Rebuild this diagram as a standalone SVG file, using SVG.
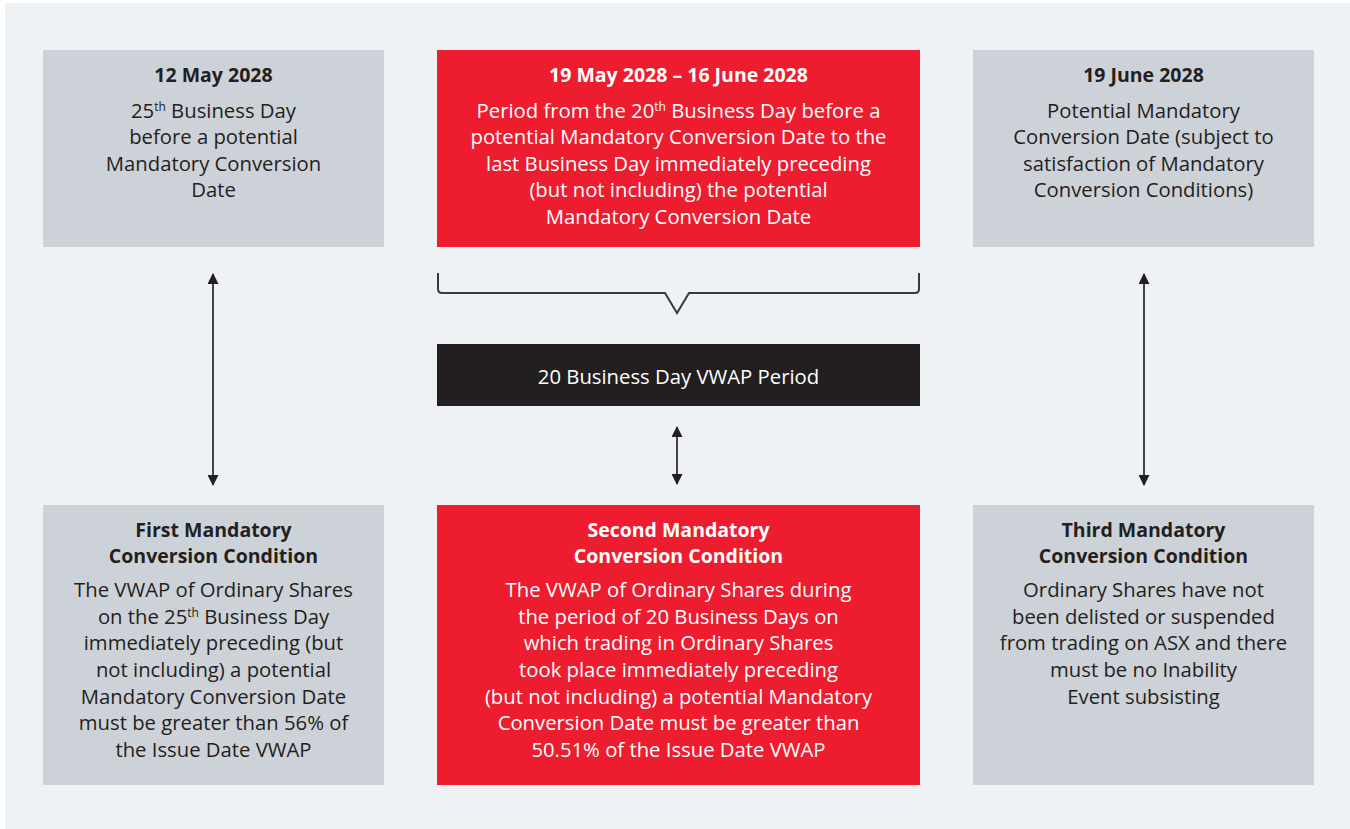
<svg xmlns="http://www.w3.org/2000/svg" width="1350" height="829" viewBox="0 0 1350 829">
<defs>
<style>
text{font-family:"Open Sans","Noto Sans","Liberation Sans",sans-serif;font-size:20.3px;text-anchor:middle;fill:#231f20}
.b{font-weight:bold;font-size:19.5px}
.w{fill:#ffffff}
.gray{fill:#cdd1d8}
.red{fill:#ed1c2e}
.blk{fill:#231f20}
.sup{font-size:12px}
.ln{stroke:#3a3a3a;stroke-width:2;fill:none}
.ar{stroke:#444;stroke-width:2}
</style>
<marker id="ah" viewBox="0 0 10 10" refX="9" refY="5" markerWidth="12" markerHeight="11" markerUnits="userSpaceOnUse" orient="auto-start-reverse">
<path d="M0,0 L10,5 L0,10 Z" fill="#231f20"/>
</marker>
</defs>
<rect x="0" y="0" width="1350" height="829" fill="#ffffff"/>
<rect x="5" y="3" width="1345" height="826" fill="#eef2f5"/>

<g id="node-12may">
<rect class="gray" x="43" y="50" width="341" height="197"/>
<text class="b" x="213.5" y="82">12 May 2028</text>
<text x="213.5" y="118">25<tspan class="sup" dy="-7">th</tspan><tspan dy="7"> Business Day</tspan></text>
<text x="213.5" y="144">before a potential</text>
<text x="213.5" y="171">Mandatory Conversion</text>
<text x="213.5" y="197">Date</text>
</g>

<g id="node-period">
<rect class="red" x="437" y="50" width="483" height="197"/>
<text class="b w" x="678.5" y="82">19 May 2028 – 16 June 2028</text>
<text class="w" x="678.5" y="118">Period from the 20<tspan class="sup" dy="-7">th</tspan><tspan dy="7"> Business Day before a</tspan></text>
<text class="w" x="678.5" y="144">potential Mandatory Conversion Date to the</text>
<text class="w" x="678.5" y="171">last Business Day immediately preceding</text>
<text class="w" x="678.5" y="197">(but not including) the potential</text>
<text class="w" x="678.5" y="224">Mandatory Conversion Date</text>
</g>

<g id="node-19june">
<rect class="gray" x="973" y="50" width="341" height="197"/>
<text class="b" x="1143.5" y="82">19 June 2028</text>
<text x="1143.5" y="118">Potential Mandatory</text>
<text x="1143.5" y="144">Conversion Date (subject to</text>
<text x="1143.5" y="171">satisfaction of Mandatory</text>
<text x="1143.5" y="197">Conversion Conditions)</text>
</g>

<g id="node-vwap">
<rect class="blk" x="437" y="344" width="483" height="62"/>
<text class="w" x="678.5" y="384">20 Business Day VWAP Period</text>
</g>

<g id="node-first">
<rect class="gray" x="43" y="505" width="341" height="280"/>
<text class="b" x="213.5" y="537">First Mandatory</text>
<text class="b" x="213.5" y="563">Conversion Condition</text>
<text x="213.5" y="597">The VWAP of Ordinary Shares</text>
<text x="213.5" y="624">on the 25<tspan class="sup" dy="-7">th</tspan><tspan dy="7"> Business Day</tspan></text>
<text x="213.5" y="650">immediately preceding (but</text>
<text x="213.5" y="677">not including) a potential</text>
<text x="213.5" y="704">Mandatory Conversion Date</text>
<text x="213.5" y="730">must be greater than 56% of</text>
<text x="213.5" y="757">the Issue Date VWAP</text>
</g>

<g id="node-second">
<rect class="red" x="437" y="505" width="483" height="280"/>
<text class="b w" x="678.5" y="537">Second Mandatory</text>
<text class="b w" x="678.5" y="563">Conversion Condition</text>
<text class="w" x="678.5" y="597">The VWAP of Ordinary Shares during</text>
<text class="w" x="678.5" y="624">the period of 20 Business Days on</text>
<text class="w" x="678.5" y="650">which trading in Ordinary Shares</text>
<text class="w" x="678.5" y="677">took place immediately preceding</text>
<text class="w" x="678.5" y="704">(but not including) a potential Mandatory</text>
<text class="w" x="678.5" y="730">Conversion Date must be greater than</text>
<text class="w" x="678.5" y="757">50.51% of the Issue Date VWAP</text>
</g>

<g id="node-third">
<rect class="gray" x="973" y="505" width="341" height="280"/>
<text class="b" x="1143.5" y="537">Third Mandatory</text>
<text class="b" x="1143.5" y="563">Conversion Condition</text>
<text x="1143.5" y="597">Ordinary Shares have not</text>
<text x="1143.5" y="624">been delisted or suspended</text>
<text x="1143.5" y="650">from trading on ASX and there</text>
<text x="1143.5" y="677">must be no Inability</text>
<text x="1143.5" y="704">Event subsisting</text>
</g>

<g id="connectors">
<path class="ln" d="M438,273 V289 Q438,293 442,293 H665 L677,313 L689,293 H915 Q919,293 919,289 V273"/>
<line class="ar" x1="213" y1="274" x2="213" y2="485" marker-start="url(#ah)" marker-end="url(#ah)"/>
<line class="ar" x1="677" y1="427" x2="677" y2="484" marker-start="url(#ah)" marker-end="url(#ah)"/>
<line class="ar" x1="1144" y1="274" x2="1144" y2="485" marker-start="url(#ah)" marker-end="url(#ah)"/>
</g>
</svg>
